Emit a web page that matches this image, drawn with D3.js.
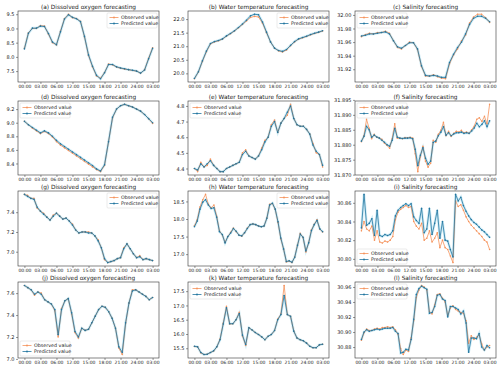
<!DOCTYPE html>
<html>
<head>
<meta charset="utf-8">
<script src="https://cdn.jsdelivr.net/npm/d3@7"></script>
<style>
body { margin: 0; background: #fff; }
svg text { font-family: "DejaVu Sans", sans-serif; fill: #222; }
</style>
</head>
<body>
<svg id="chart" width="500" height="369"></svg>
<script>
// x tick labels, shared by every panel
var timeLabels = ["00:00", "03:00", "06:00", "12:00", "15:00", "18:00", "21:00", "24:00", "03:00"];

var titles = [
	"(a) Dissolved oxygen forecasting", "(b) Water temperature forecasting", "(c) Salinity forecasting",
	"(d) Dissolved oxygen forecasting", "(e) Water temperature forecasting", "(f) Salinity forecasting",
	"(g) Dissolved oxygen forecasting", "(h) Water temperature forecasting", "(i) Salinity forecasting",
	"(j) Dissolved oxygen forecasting", "(k) Water temperature forecasting", "(l) Salinity forecasting"
];

// series values
var obsA = [8.30,8.85,9.00,9.00,9.10,9.08,8.80,8.50,8.42,8.90,9.35,9.50,9.38,9.35,9.25,8.70,8.05,7.65,7.33,7.25,7.45,7.75,7.72,7.64,7.60,7.57,7.55,7.52,7.50,7.42,7.55,7.95,8.32];
var preA = [8.28,8.83,9.01,9.01,9.08,9.07,8.82,8.52,8.43,8.88,9.33,9.48,9.39,9.34,9.24,8.72,8.07,7.67,7.35,7.23,7.44,7.73,7.73,7.65,7.61,7.58,7.55,7.53,7.50,7.43,7.54,7.93,8.30];

var obsB = [19.80,20.05,20.44,20.80,21.08,21.16,21.20,21.26,21.37,21.46,21.56,21.68,21.80,21.93,22.06,22.10,22.08,21.85,21.50,21.16,20.93,20.83,20.79,20.86,21.02,21.16,21.26,21.31,21.36,21.42,21.47,21.51,21.56];
var preB = [19.81,20.06,20.46,20.82,21.10,21.17,21.21,21.27,21.38,21.47,21.57,21.69,21.82,21.96,22.12,22.18,22.16,21.89,21.52,21.16,20.93,20.84,20.81,20.88,21.03,21.17,21.27,21.32,21.37,21.43,21.48,21.52,21.57];

var obsC = [31.968,31.971,31.973,31.972,31.974,31.974,31.976,31.973,31.962,31.952,31.950,31.955,31.960,31.959,31.949,31.924,31.910,31.910,31.912,31.909,31.907,31.906,31.928,31.941,31.950,31.962,31.970,31.988,31.997,32.001,32.001,31.996,31.989];
var preC = [31.969,31.970,31.972,31.972,31.973,31.974,31.975,31.972,31.962,31.953,31.951,31.955,31.959,31.959,31.950,31.925,31.911,31.910,31.911,31.910,31.908,31.908,31.930,31.942,31.952,31.960,31.972,31.986,31.995,31.998,31.998,31.995,31.990];

var obsD = [9.02,8.97,8.92,8.88,8.84,8.87,8.84,8.79,8.72,8.67,8.63,8.59,8.55,8.51,8.47,8.43,8.39,8.35,8.31,8.28,8.37,8.72,9.07,9.20,9.25,9.27,9.25,9.23,9.20,9.17,9.12,9.06,8.99];
var preD = [9.02,8.97,8.93,8.89,8.85,8.88,8.85,8.80,8.74,8.69,8.65,8.61,8.57,8.53,8.49,8.45,8.41,8.37,8.32,8.29,8.38,8.72,9.08,9.20,9.25,9.27,9.25,9.23,9.20,9.17,9.12,9.06,9.00];

var obsE = [4.40,4.38,4.44,4.41,4.42,4.46,4.42,4.40,4.38,4.38,4.40,4.41,4.42,4.43,4.44,4.50,4.52,4.48,4.47,4.46,4.48,4.53,4.58,4.60,4.68,4.71,4.63,4.69,4.72,4.74,4.81,4.72,4.68,4.67,4.67,4.65,4.62,4.56,4.50,4.49,4.41];
var preE = [4.40,4.39,4.43,4.41,4.43,4.45,4.42,4.40,4.38,4.38,4.40,4.41,4.42,4.43,4.44,4.49,4.51,4.48,4.47,4.46,4.48,4.52,4.57,4.60,4.67,4.70,4.63,4.69,4.72,4.76,4.80,4.72,4.68,4.67,4.67,4.65,4.62,4.55,4.51,4.49,4.42];

var obsF = [31.8810,31.8830,31.8885,31.8855,31.8820,31.8835,31.8825,31.8822,31.8818,31.8805,31.8798,31.8788,31.8820,31.8870,31.8822,31.8822,31.8820,31.8824,31.8823,31.8825,31.8822,31.8770,31.8710,31.8760,31.8795,31.8745,31.8725,31.8738,31.8815,31.8808,31.8835,31.8848,31.8875,31.8830,31.8845,31.8828,31.8838,31.8845,31.8842,31.8848,31.8840,31.8842,31.8838,31.8850,31.8862,31.8885,31.8890,31.8878,31.8895,31.8870,31.8935];
var preF = [31.8812,31.8828,31.8862,31.8850,31.8825,31.8832,31.8826,31.8822,31.8815,31.8808,31.8800,31.8795,31.8815,31.8855,31.8825,31.8822,31.8821,31.8822,31.8822,31.8823,31.8820,31.8785,31.8730,31.8765,31.8790,31.8755,31.8735,31.8745,31.8808,31.8812,31.8830,31.8842,31.8860,31.8832,31.8840,31.8830,31.8836,31.8840,31.8840,31.8842,31.8838,31.8840,31.8838,31.8846,31.8856,31.8872,31.8860,31.8868,31.8880,31.8860,31.8880];

var obsG = [7.58,7.57,7.54,7.54,7.44,7.41,7.39,7.35,7.32,7.37,7.39,7.36,7.33,7.34,7.31,7.28,7.22,7.19,7.20,7.20,7.20,7.19,7.16,7.12,7.04,6.92,6.89,6.90,6.91,6.93,6.94,7.04,7.08,7.03,6.98,6.94,6.96,6.92,6.93,6.92,6.91];
var preG = [7.58,7.56,7.54,7.53,7.45,7.41,7.38,7.35,7.32,7.36,7.39,7.36,7.33,7.34,7.31,7.27,7.22,7.19,7.20,7.20,7.19,7.19,7.16,7.11,7.04,6.93,6.89,6.90,6.91,6.93,6.94,7.03,7.08,7.03,6.98,6.94,6.95,6.92,6.93,6.92,6.91];

var obsH = [17.81,17.98,18.34,18.55,18.70,18.42,18.32,18.40,18.08,17.66,17.55,17.33,17.50,17.62,17.74,17.64,17.54,17.51,17.61,17.74,17.84,17.86,17.84,17.80,17.78,17.80,18.03,18.42,18.44,18.27,17.90,17.44,17.14,16.78,16.80,16.76,16.92,17.26,17.59,17.47,17.06,17.33,17.69,17.85,17.98,17.71,17.63];
var preH = [17.78,17.94,18.28,18.48,18.55,18.40,18.30,18.32,18.05,17.64,17.56,17.32,17.50,17.60,17.73,17.65,17.54,17.52,17.61,17.73,17.84,17.86,17.84,17.80,17.78,17.80,18.02,18.40,18.45,18.28,17.92,17.46,17.15,16.79,16.81,16.77,16.91,17.25,17.57,17.48,17.09,17.32,17.67,17.84,17.96,17.72,17.64];

var obsI = [30.830,30.840,30.832,30.830,30.835,30.820,30.830,30.818,30.817,30.819,30.818,30.820,30.824,30.842,30.850,30.853,30.855,30.857,30.855,30.856,30.840,30.835,30.832,30.838,30.820,30.822,30.830,30.818,30.822,30.828,30.812,30.820,30.812,30.810,30.803,30.796,30.862,30.856,30.858,30.852,30.845,30.840,30.836,30.833,30.830,30.827,30.824,30.820,30.818,30.810];
var preI = [30.833,30.869,30.836,30.838,30.843,30.825,30.852,30.825,30.824,30.826,30.825,30.826,30.830,30.846,30.852,30.855,30.857,30.859,30.857,30.859,30.845,30.841,30.838,30.854,30.828,30.832,30.854,30.826,30.838,30.852,30.822,30.840,30.820,30.819,30.810,30.802,30.869,30.862,30.866,30.857,30.851,30.846,30.842,30.839,30.837,30.834,30.831,30.829,30.826,30.823];

var obsJ = [7.67,7.65,7.63,7.58,7.61,7.60,7.54,7.52,7.50,7.44,7.20,7.46,7.53,7.55,7.41,7.24,7.19,7.28,7.26,7.27,7.33,7.39,7.45,7.48,7.47,7.43,7.37,7.28,7.10,7.04,7.32,7.51,7.63,7.63,7.61,7.59,7.57,7.54,7.56];
var preJ = [7.67,7.65,7.63,7.59,7.61,7.59,7.54,7.52,7.50,7.45,7.22,7.45,7.53,7.55,7.42,7.25,7.20,7.28,7.26,7.27,7.33,7.39,7.45,7.48,7.47,7.43,7.37,7.28,7.11,7.06,7.33,7.51,7.62,7.63,7.61,7.59,7.57,7.54,7.56];

var obsK = [15.56,15.55,15.34,15.28,15.29,15.35,15.40,15.55,15.82,16.38,16.97,16.35,16.36,16.50,16.76,15.93,15.60,16.22,16.14,16.05,15.98,15.90,15.80,15.92,15.98,16.12,16.52,16.70,17.70,16.68,16.62,16.10,15.86,15.80,15.76,15.68,15.57,15.52,15.52,15.62,15.64];
var preK = [15.57,15.55,15.35,15.28,15.29,15.35,15.41,15.55,15.80,16.35,16.92,16.36,16.36,16.50,16.72,15.96,15.63,16.22,16.14,16.05,15.98,15.90,15.80,15.92,15.98,16.12,16.50,16.68,17.35,16.68,16.62,16.10,15.86,15.80,15.76,15.68,15.57,15.52,15.52,15.62,15.64];

var obsL = [30.889,30.899,30.904,30.902,30.902,30.904,30.905,30.904,30.906,30.906,30.907,30.906,30.907,30.903,30.897,30.878,30.870,30.876,30.874,30.892,30.915,30.946,30.956,30.962,30.960,30.956,30.927,30.924,30.936,30.950,30.951,30.945,30.940,30.922,30.932,30.935,30.930,30.928,30.926,30.925,30.915,30.885,30.895,30.890,30.893,30.896,30.884,30.876,30.880,30.882];
var preL = [30.890,30.900,30.903,30.901,30.902,30.903,30.904,30.903,30.904,30.905,30.905,30.905,30.906,30.901,30.898,30.872,30.873,30.877,30.876,30.890,30.917,30.950,30.958,30.961,30.959,30.957,30.925,30.926,30.934,30.949,30.950,30.944,30.942,30.920,30.934,30.934,30.932,30.930,30.924,30.928,30.912,30.873,30.892,30.892,30.891,30.898,30.880,30.876,30.882,30.879];

// y tick labels
var ticksA = [7.5, 8.0, 8.5, 9.0, 9.5];
var ticksB = [20.0, 20.5, 21.0, 21.5, 22.0];
var ticksC = [31.92, 31.94, 31.96, 31.98, 32.00];
var ticksD = [8.4, 8.6, 8.8, 9.0, 9.2];
var ticksE = [4.4, 4.5, 4.6, 4.7, 4.8];
var ticksF = [31.870, 31.875, 31.880, 31.885, 31.890, 31.895];
var ticksG = [7.0, 7.2, 7.4];
var ticksH = [17.0, 17.5, 18.0, 18.5];
var ticksI = [30.80, 30.82, 30.84, 30.86];
var ticksJ = [7.0, 7.2, 7.4, 7.6];
var ticksK = [15.5, 16.0, 16.5, 17.0, 17.5];
var ticksL = [30.88, 30.90, 30.92, 30.94, 30.96];

var legendNames = ["Observed value", "Predicted value"];

var panels = [
	{obs: obsA, pred: preA, ticks: ticksA, fmt: ".1f", legend: "ur"},
	{obs: obsB, pred: preB, ticks: ticksB, fmt: ".1f", legend: "ur"},
	{obs: obsC, pred: preC, ticks: ticksC, fmt: ".2f", legend: "ul"},
	{obs: obsD, pred: preD, ticks: ticksD, fmt: ".1f", legend: "ul"},
	{obs: obsE, pred: preE, ticks: ticksE, fmt: ".1f", legend: "ul"},
	{obs: obsF, pred: preF, ticks: ticksF, fmt: ".3f", legend: "ul"},
	{obs: obsG, pred: preG, ticks: ticksG, fmt: ".1f", legend: "ur"},
	{obs: obsH, pred: preH, ticks: ticksH, fmt: ".1f", legend: "ur"},
	{obs: obsI, pred: preI, ticks: ticksI, fmt: ".2f", legend: "ll"},
	{obs: obsJ, pred: preJ, ticks: ticksJ, fmt: ".1f", legend: "ll"},
	{obs: obsK, pred: preK, ticks: ticksK, fmt: ".1f", legend: "ul"},
	{obs: obsL, pred: preL, ticks: ticksL, fmt: ".2f", legend: "ul"}
];

var svg = d3.select("#chart");
var colLeft = [18, 188, 355], colWidth = 141;
var rowTop = [11, 101, 191, 282], rowHeight = [71, 74, 75, 76];
var obsColor = "#f5925a", predColor = "#21759f";

panels.forEach(function (p, k) {
	var col = k % 3, row = Math.floor(k / 3);
	var w = colWidth, h = rowHeight[row];
	var n = p.obs.length;
	var g = svg.append("g")
		.attr("transform", "translate(" + colLeft[col] + "," + rowTop[row] + ")");

	// matplotlib-like 5% margins
	var x = d3.scaleLinear().domain([-(n - 1) * 0.05, (n - 1) * 1.05]).range([0, w]);
	var ext = d3.extent(p.obs.concat(p.pred));
	var pad = (ext[1] - ext[0]) * 0.05;
	var y = d3.scaleLinear().domain([ext[0] - pad, ext[1] + pad]).range([h, 0]);

	var xAxis = d3.axisBottom(x)
		.tickValues(d3.range(9).map(function (i) { return i * (n - 1) / 8; }))
		.tickFormat(function (d, i) { return timeLabels[i]; })
		.tickSize(2).tickPadding(1);
	var yAxis = d3.axisLeft(y)
		.tickValues(p.ticks)
		.tickFormat(d3.format(p.fmt))
		.tickSize(2).tickPadding(1.5);

	var gx = g.append("g").attr("transform", "translate(0," + h + ")").call(xAxis);
	var gy = g.append("g").call(yAxis);
	[gx, gy].forEach(function (a) {
		a.select(".domain").remove();
		a.selectAll("line").attr("stroke", "#333").attr("stroke-width", 0.5);
		a.selectAll("text").attr("font-size", "4.5px").attr("fill", "#222");
	});
	gy.selectAll("text").attr("font-size", "5px");

	var line = d3.line()
		.x(function (d, i) { return x(i); })
		.y(function (d) { return y(d); });

	// faint halo under the predicted line
	g.append("path").datum(p.pred)
		.attr("d", line).attr("fill", "none")
		.attr("stroke", "#bfe6f2").attr("stroke-width", 2.6).attr("opacity", 0.7);

	g.append("path").datum(p.obs)
		.attr("d", line).attr("fill", "none")
		.attr("stroke", obsColor).attr("stroke-width", 0.8);
	g.selectAll("circle.obs").data(p.obs).enter().append("circle")
		.attr("class", "obs")
		.attr("cx", function (d, i) { return x(i); })
		.attr("cy", function (d) { return y(d); })
		.attr("r", 0.8).attr("fill", obsColor);

	g.append("path").datum(p.pred)
		.attr("d", line).attr("fill", "none")
		.attr("stroke", predColor).attr("stroke-width", 0.8);
	g.selectAll("circle.pred").data(p.pred).enter().append("circle")
		.attr("class", "pred")
		.attr("cx", function (d, i) { return x(i); })
		.attr("cy", function (d) { return y(d); })
		.attr("r", 0.8).attr("fill", predColor);

	g.append("rect")
		.attr("width", w).attr("height", h)
		.attr("fill", "none").attr("stroke", "#333").attr("stroke-width", 0.6);

	g.append("text")
		.attr("x", w / 2).attr("y", -2.5)
		.attr("text-anchor", "middle")
		.attr("font-size", "5.8px")
		.attr("fill", "#111")
		.text(titles[k]);

	// legend
	var lw = 50, lh = 15;
	var lx = p.legend === "ur" ? w - lw - 2 : 2;
	var ly = p.legend === "ll" ? h - lh - 2 : 2;
	var lg = g.append("g").attr("transform", "translate(" + lx + "," + ly + ")");
	lg.append("rect")
		.attr("width", lw).attr("height", lh).attr("rx", 1)
		.attr("fill", "#fff").attr("fill-opacity", 0.85)
		.attr("stroke", "#ccc").attr("stroke-width", 0.4);
	[obsColor, predColor].forEach(function (c, j) {
		var yy = 4.5 + j * 6;
		lg.append("line")
			.attr("x1", 2.5).attr("x2", 11.5).attr("y1", yy).attr("y2", yy)
			.attr("stroke", c).attr("stroke-width", 0.8);
		lg.append("circle").attr("cx", 7).attr("cy", yy).attr("r", 0.9).attr("fill", c);
		lg.append("text")
			.attr("x", 14).attr("y", yy + 1.7)
			.attr("font-size", "4.8px")
			.text(legendNames[j]);
	});
});
</script>
</body>
</html>
